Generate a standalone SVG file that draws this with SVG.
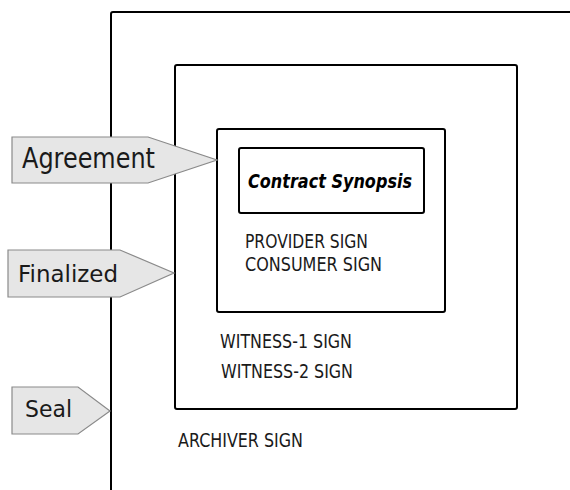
<svg xmlns="http://www.w3.org/2000/svg" width="570" height="490" viewBox="0 0 570 490">
<style>
.box{fill:none;stroke:#000;stroke-width:2}
.tag{fill:#e6e6e6;stroke:#8a8a8a;stroke-width:1.2}
.lbl{font-family:"DejaVu Sans",sans-serif;fill:#1a1a1a}
.sm{font-size:19.5px}
.title{font-size:19px;font-weight:bold;font-style:italic;fill:#000}
</style>
<rect width="570" height="490" fill="#fff"/>
<g id="archive">
<rect class="box" x="111" y="12" width="520" height="520" rx="2"/>
<text class="lbl sm" x="178" y="447" textLength="125" lengthAdjust="spacingAndGlyphs">ARCHIVER SIGN</text>
</g>
<g id="witness">
<rect class="box" x="175" y="65" width="342" height="344" rx="2"/>
<text class="lbl sm" x="220" y="348" textLength="132" lengthAdjust="spacingAndGlyphs">WITNESS-1 SIGN</text>
<text class="lbl sm" x="221" y="378" textLength="132" lengthAdjust="spacingAndGlyphs">WITNESS-2 SIGN</text>
</g>
<g id="agreement">
<rect class="box" x="217" y="129" width="228" height="183" rx="2"/>
<text class="lbl sm" x="245" y="248" textLength="123" lengthAdjust="spacingAndGlyphs">PROVIDER SIGN</text>
<text class="lbl sm" x="245" y="271" textLength="137" lengthAdjust="spacingAndGlyphs">CONSUMER SIGN</text>
</g>
<g id="synopsis">
<rect class="box" x="239" y="148" width="185" height="65" rx="2"/>
<text class="lbl title" x="248" y="188" textLength="164" lengthAdjust="spacingAndGlyphs">Contract Synopsis</text>
</g>
<g id="tag-agreement">
<polygon class="tag" points="12,137 148,137 217,160 148,183 12,183"/>
<text class="lbl" font-size="28" x="22" y="168" textLength="133" lengthAdjust="spacingAndGlyphs">Agreement</text>
</g>
<g id="tag-finalized">
<polygon class="tag" points="8,250 120,250 174,273 120,297 8,297"/>
<text class="lbl" font-size="23" x="18" y="282" textLength="100" lengthAdjust="spacingAndGlyphs">Finalized</text>
</g>
<g id="tag-seal">
<polygon class="tag" points="12,387 78,387 110,411 78,434 12,434"/>
<text class="lbl" font-size="23" x="25" y="417" textLength="47" lengthAdjust="spacingAndGlyphs">Seal</text>
</g>
<g id="connectors"></g>
</svg>
